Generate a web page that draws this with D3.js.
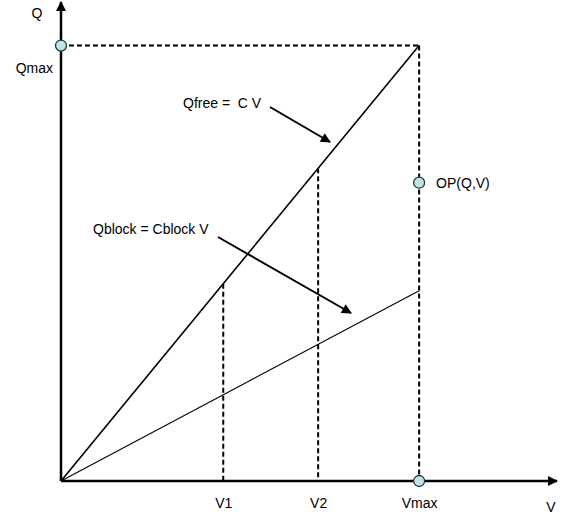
<!DOCTYPE html>
<html>
<head>
<meta charset="utf-8">
<script src="https://cdn.jsdelivr.net/npm/d3@7"></script>
<style>
  body { margin: 0; background: #fff; }
  svg text { font-family: "Liberation Sans", Arial, sans-serif; font-size: 14px; fill: #000; }
</style>
</head>
<body>
<svg id="chart" width="565" height="520"></svg>
<script>
// values (arbitrary units)
const vMarks = [4.53, 7.18, 10];          // V1, V2, Vmax
const vLabels = ["V1", "V2", "Vmax"];
const qMax = 10;
const slopes = { free: 1.0, block: 0.437 }; // Q / V relative to C
const opPoint = { v: 10, q: 6.85 };

const svg = d3.select("#chart");

// scales
const x = d3.scaleLinear().domain([0, 13.85]).range([61, 557]);
const y = d3.scaleLinear().domain([0, 11.0]).range([481, 2]);

// arrow head marker
const defs = svg.append("defs");
defs.append("marker")
    .attr("id", "head")
    .attr("viewBox", "0 0 10 10")
    .attr("refX", 9).attr("refY", 5)
    .attr("markerWidth", 11).attr("markerHeight", 10)
    .attr("markerUnits", "userSpaceOnUse")
    .attr("orient", "auto")
    .append("path")
    .attr("d", "M0,0 L10,5 L0,10 z")
    .attr("fill", "#000");

// dashed guide lines
const dash = svg.append("g")
    .attr("stroke", "#000")
    .attr("stroke-width", 2)
    .attr("stroke-dasharray", "5,3")
    .attr("fill", "none");

dash.append("line")
    .attr("x1", x(0)).attr("y1", y(qMax))
    .attr("x2", x(vMarks[2])).attr("y2", y(qMax));
dash.append("line")
    .attr("x1", x(vMarks[2])).attr("y1", y(qMax))
    .attr("x2", x(vMarks[2])).attr("y2", y(0));
dash.selectAll("line.v")
    .data(vMarks.slice(0, 2))
    .join("line")
    .attr("class", "v")
    .attr("x1", d => x(d)).attr("y1", d => y(d * slopes.free * qMax / vMarks[2]))
    .attr("x2", d => x(d)).attr("y2", y(0));

// characteristic lines
svg.append("line")
    .attr("x1", x(0)).attr("y1", y(0))
    .attr("x2", x(vMarks[2])).attr("y2", y(qMax * slopes.free))
    .attr("stroke", "#000").attr("stroke-width", 1.6);
svg.append("line")
    .attr("x1", x(0)).attr("y1", y(0))
    .attr("x2", x(vMarks[2])).attr("y2", y(qMax * slopes.block))
    .attr("stroke", "#000").attr("stroke-width", 1.1);

// axes with arrows
svg.append("line")
    .attr("x1", x(0)).attr("y1", y(0))
    .attr("x2", x(13.85)).attr("y2", y(0))
    .attr("stroke", "#000").attr("stroke-width", 2.5)
    .attr("marker-end", "url(#head)");
svg.append("line")
    .attr("x1", x(0)).attr("y1", y(0))
    .attr("x2", x(0)).attr("y2", y(11.0))
    .attr("stroke", "#000").attr("stroke-width", 2.5)
    .attr("marker-end", "url(#head)");

// tick labels via d3 axis
const xAxis = d3.axisBottom(x)
    .tickValues(vMarks)
    .tickFormat((d, i) => vLabels[i])
    .tickSize(0)
    .tickPadding(17);
svg.append("g")
    .attr("transform", `translate(0, ${y(0)})`)
    .call(xAxis)
    .call(g => g.select(".domain").remove())
    .selectAll("text")
    .attr("font-family", null).attr("font-size", null).attr("fill", "#000");

const yAxis = d3.axisLeft(y)
    .tickValues([qMax])
    .tickFormat(() => "Qmax")
    .tickSize(0)
    .tickPadding(8);
svg.append("g")
    .attr("transform", `translate(${x(0)}, 0)`)
    .call(yAxis)
    .call(g => g.select(".domain").remove())
    .selectAll("text")
    .attr("font-family", null).attr("font-size", null).attr("fill", "#000")
    .attr("dy", "1.95em");

// axis names
svg.append("text").attr("x", x(0) - 24).attr("y", 18).attr("text-anchor", "middle").text("Q");
svg.append("text").attr("x", x(13.68)).attr("y", 512).attr("text-anchor", "middle").text("V");

// line annotations
svg.append("text").attr("x", 183).attr("y", 108).attr("xml:space", "preserve").text("Qfree =  C V");
svg.append("text").attr("x", 93).attr("y", 234).text("Qblock = Cblock V");

const pointers = [
    { x1: 270, y1: 107, x2: 330, y2: 142 },
    { x1: 218, y1: 237, x2: 351, y2: 313 }
];
svg.selectAll("line.ptr")
    .data(pointers)
    .join("line")
    .attr("class", "ptr")
    .attr("x1", d => d.x1).attr("y1", d => d.y1)
    .attr("x2", d => d.x2).attr("y2", d => d.y2)
    .attr("stroke", "#000").attr("stroke-width", 2)
    .attr("marker-end", "url(#head)");

// marked points
const points = [
    { v: 0, q: qMax },
    { v: vMarks[2], q: 0 },
    opPoint
];
svg.selectAll("circle")
    .data(points)
    .join("circle")
    .attr("cx", d => x(d.v))
    .attr("cy", d => y(d.q))
    .attr("r", 5.5)
    .attr("fill", "#c3e2e2")
    .attr("stroke", "#1d3b4a")
    .attr("stroke-width", 1.3);

svg.append("text")
    .attr("x", x(opPoint.v) + 17)
    .attr("y", y(opPoint.q) + 5)
    .text("OP(Q,V)");
</script>
</body>
</html>
